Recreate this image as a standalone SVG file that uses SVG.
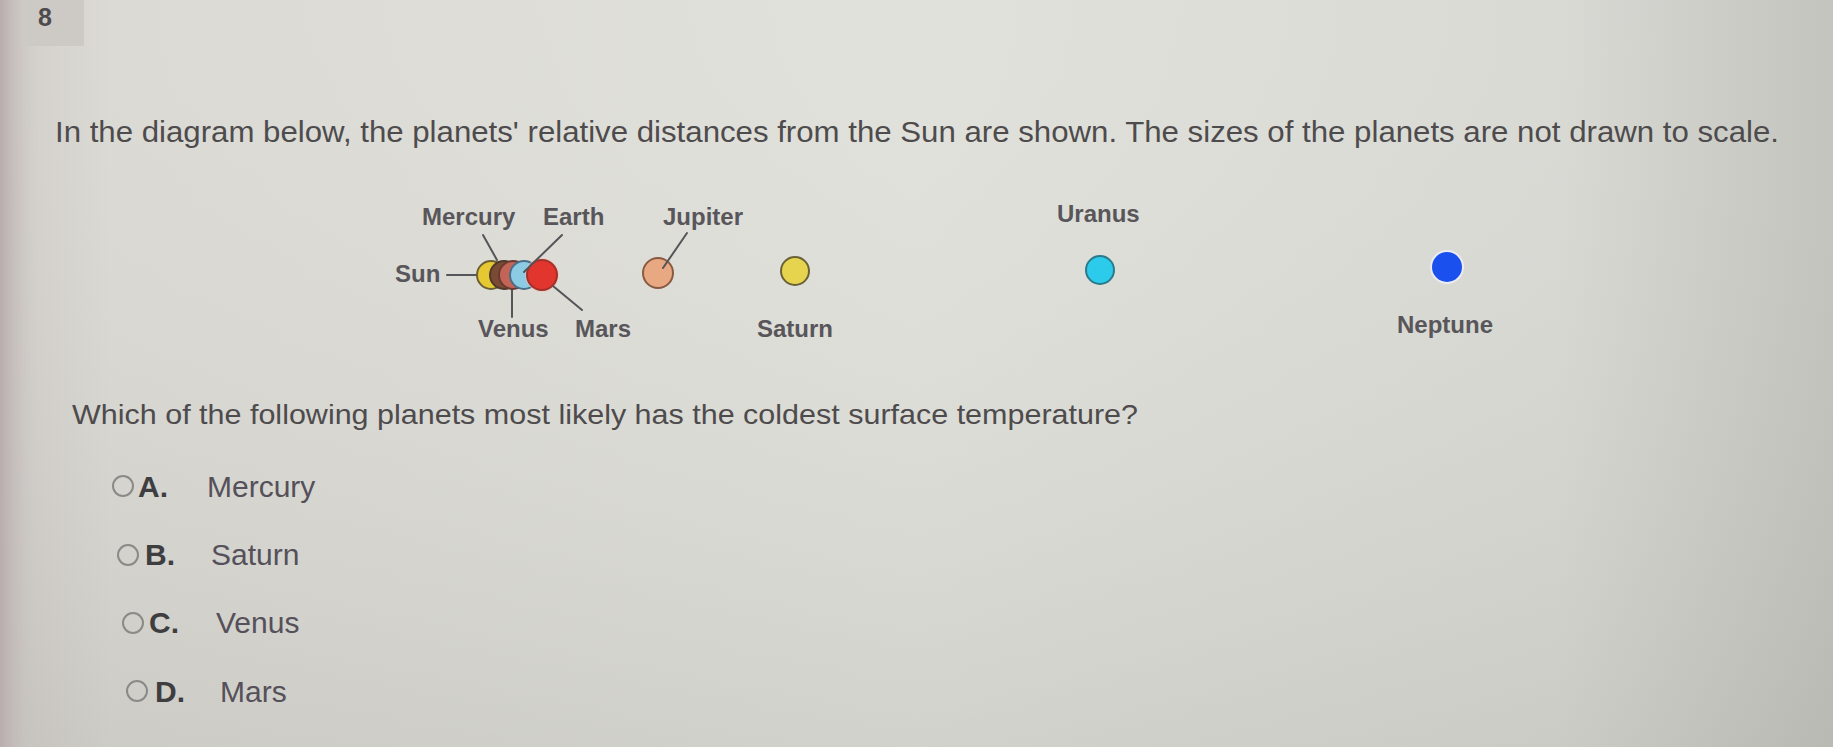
<svg xmlns="http://www.w3.org/2000/svg" width="1833" height="747" viewBox="0 0 1833 747">
<defs>
<linearGradient id="bg" x1="0" y1="0" x2="1" y2="0">
<stop offset="0" stop-color="#cfcbc7"/>
<stop offset="0.06" stop-color="#d9d8d2"/>
<stop offset="0.5" stop-color="#e0e0da"/>
<stop offset="0.85" stop-color="#d7d8d2"/>
<stop offset="1" stop-color="#c0c1ba"/>
</linearGradient>
<linearGradient id="vshade" x1="0" y1="0" x2="0" y2="1">
<stop offset="0" stop-color="#ffffff" stop-opacity="0.05"/>
<stop offset="1" stop-color="#9a9a94" stop-opacity="0.2"/>
</linearGradient>
<linearGradient id="lstrip" x1="0" y1="0" x2="1" y2="0">
<stop offset="0" stop-color="#b9adad"/>
<stop offset="1" stop-color="#cfcbc7" stop-opacity="0"/>
</linearGradient>
<style>
.q{font-family:"Liberation Sans",Arial,sans-serif;fill:#4e4b4d;}
.lbl{font-family:"Liberation Sans",Arial,sans-serif;font-weight:bold;font-size:24px;fill:#58565a;}
.opt{font-family:"Liberation Sans",Arial,sans-serif;font-size:30px;fill:#55505a;}
.let{font-family:"Liberation Sans",Arial,sans-serif;font-size:30px;font-weight:bold;fill:#3e3e40;}
.radio{fill:none;stroke:#8a8a88;stroke-width:2;}
.lead{stroke:#555458;stroke-width:2;fill:none;stroke-linecap:round;}
.pl{stroke-width:2;}
</style>
</defs>
<rect width="1833" height="747" fill="url(#bg)"/>
<rect width="1833" height="747" fill="url(#vshade)"/>
<rect x="0" y="0" width="40" height="747" fill="url(#lstrip)"/>
<rect x="22" y="0" width="62" height="46" fill="#cdc9c4"/>

<g id="number">
<text x="38" y="26" class="q" font-size="25" font-weight="bold" fill="#454344">8</text>
</g>

<g id="intro">
<text x="55" y="142" class="q" font-size="29" textLength="1724" lengthAdjust="spacingAndGlyphs">In the diagram below, the planets' relative distances from the Sun are shown. The sizes of the planets are not drawn to scale.</text>
</g>

<g id="connectors">
<line class="lead" x1="447" y1="275" x2="482" y2="275"/>
<line class="lead" x1="483" y1="235" x2="497" y2="260"/>
<line class="lead" x1="512" y1="283" x2="512" y2="317"/>
</g>

<g id="sun">
<text x="395" y="282" class="lbl">Sun</text>
<circle class="pl" cx="491" cy="275" r="14" fill="#e6c832" stroke="#6e6034"/>
</g>
<g id="mercury">
<text x="422" y="225" class="lbl">Mercury</text>
<circle class="pl" cx="504" cy="275" r="14" fill="#7a4a32" stroke="#4e3a2c"/>
</g>
<g id="venus">
<text x="478" y="337" class="lbl">Venus</text>
<circle class="pl" cx="513" cy="275" r="14" fill="#c26456" stroke="#6a3a32"/>
</g>
<g id="earth">
<text x="543" y="225" class="lbl">Earth</text>
<circle class="pl" cx="524" cy="275" r="14" fill="#8ccbe4" stroke="#4a6e88"/>
</g>
<g id="mars">
<text x="575" y="337" class="lbl">Mars</text>
<circle cx="542" cy="275" r="17" fill="#f2c0b8" opacity="0.6"/>
<circle class="pl" cx="542" cy="275" r="15" fill="#e2352e" stroke="#a2302a"/>
</g>
<g id="jupiter">
<text x="663" y="225" class="lbl">Jupiter</text>
<circle class="pl" cx="658" cy="273" r="15" fill="#e8a882" stroke="#8a5a40"/>
</g>
<g id="saturn">
<text x="757" y="337" class="lbl">Saturn</text>
<circle class="pl" cx="795" cy="271" r="14" fill="#e6d34e" stroke="#6a6236"/>
</g>
<g id="uranus">
<text x="1057" y="222" class="lbl">Uranus</text>
<circle class="pl" cx="1100" cy="270" r="14" fill="#2ccbeb" stroke="#2a7a8c"/>
</g>
<g id="neptune">
<text x="1397" y="333" class="lbl">Neptune</text>
<circle cx="1447" cy="267" r="17" fill="#f4f4ff" opacity="0.7"/>
<circle cx="1447" cy="267" r="15" fill="#1a50ee"/>
</g>

<g id="connectors2">
<line class="lead" x1="562" y1="235" x2="524" y2="272"/>
<line class="lead" x1="553" y1="286" x2="582" y2="310"/>
<line class="lead" x1="687" y1="233" x2="663" y2="268"/>
</g>

<g id="question">
<text x="72" y="424" class="q" font-size="28" textLength="1066" lengthAdjust="spacingAndGlyphs">Which of the following planets most likely has the coldest surface temperature?</text>
</g>

<g id="optionA">
<circle class="radio" cx="123" cy="486" r="10"/>
<text x="138" y="497" class="let">A.</text>
<text x="207" y="497" class="opt">Mercury</text>
</g>
<g id="optionB">
<circle class="radio" cx="128" cy="555" r="10"/>
<text x="145" y="565" class="let">B.</text>
<text x="211" y="565" class="opt">Saturn</text>
</g>
<g id="optionC">
<circle class="radio" cx="133" cy="623" r="10"/>
<text x="149" y="633" class="let">C.</text>
<text x="216" y="633" class="opt">Venus</text>
</g>
<g id="optionD">
<circle class="radio" cx="137" cy="691" r="10"/>
<text x="155" y="702" class="let">D.</text>
<text x="220" y="702" class="opt">Mars</text>
</g>
</svg>
